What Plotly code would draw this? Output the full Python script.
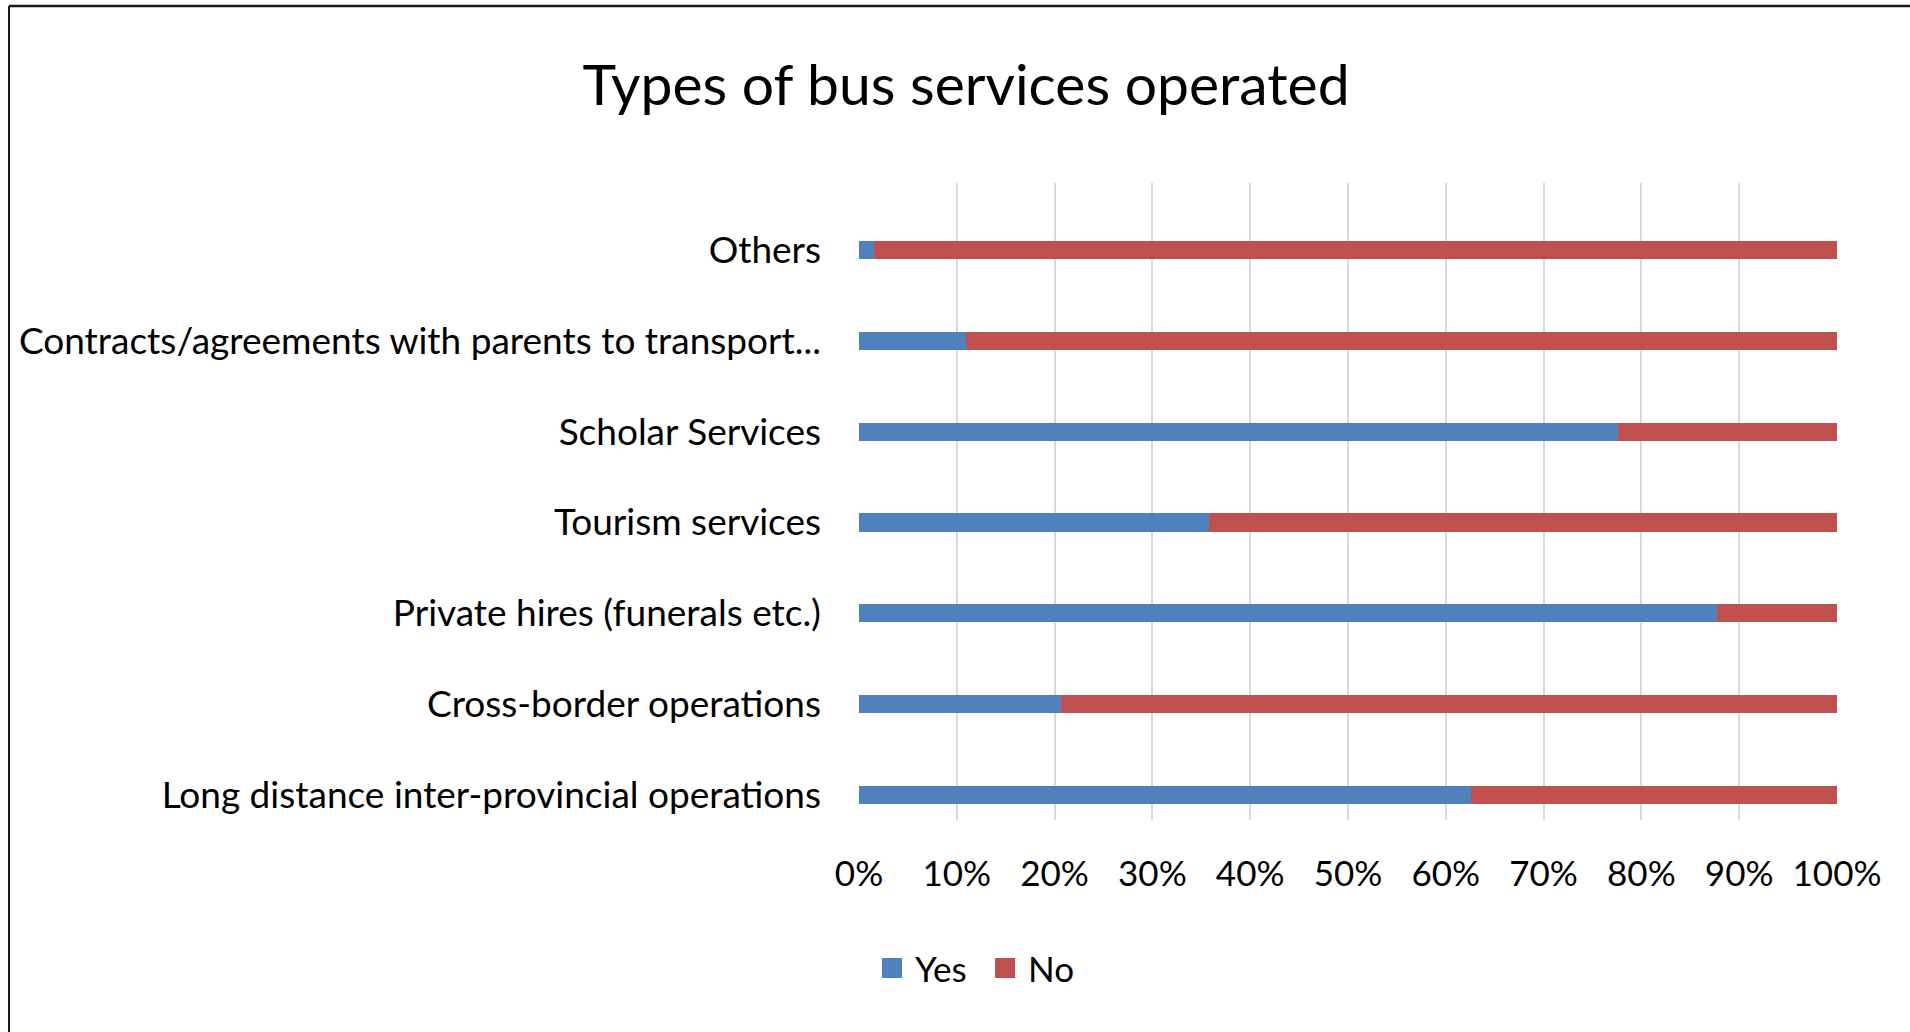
import plotly.graph_objects as go

categories = [
    "Others",
    "Contracts/agreements with parents to transport...",
    "Scholar Services",
    "Tourism services",
    "Private hires (funerals etc.)",
    "Cross-border operations",
    "Long distance inter-provincial operations",
]
yes_values = [1.5, 10.9, 77.6, 35.8, 87.7, 20.7, 62.6]
no_values = [98.5, 89.1, 22.4, 64.2, 12.3, 79.3, 37.4]
x_tick_values = [0, 10, 20, 30, 40, 50, 60, 70, 80, 90, 100]
x_tick_labels = ["0%", "10%", "20%", "30%", "40%", "50%", "60%", "70%", "80%", "90%", "100%"]
series_names = ["Yes", "No"]
series_colors = ["#4f81bd", "#c0504d"]

FONT = "Lato, 'Liberation Sans', Arial, sans-serif"

fig = go.Figure()
fig.add_trace(go.Bar(y=categories, x=yes_values, name=series_names[0], orientation="h",
                     marker=dict(color=series_colors[0], line=dict(width=0))))
fig.add_trace(go.Bar(y=categories, x=no_values, name=series_names[1], orientation="h",
                     marker=dict(color=series_colors[1], line=dict(width=0))))

W, H = 1910, 1032
L, R, T, B = 859, 73, 183, 212
pw, ph = W - L - R, H - T - B

def px_to_paper_x(px):
    return (px - L) / pw

def px_to_paper_y(py):
    return (H - B - py) / ph

fig.update_layout(
    width=W, height=H,
    margin=dict(l=L, r=R, t=T, b=B, pad=0),
    barmode="stack",
    bargap=0.8,
    plot_bgcolor="white",
    paper_bgcolor="white",
    font=dict(family=FONT, color="#000000"),
    title=dict(text="Types of bus services operated", x=966 / W, xanchor="center",
               xref="container", yref="container", y=1 - 85 / H, yanchor="middle",
               font=dict(size=57, family=FONT, color="#000000")),
    xaxis=dict(range=[0, 100], tickvals=x_tick_values, ticktext=x_tick_labels,
               showgrid=True, gridcolor="#d9d9d9", gridwidth=1.5, zeroline=False,
               showline=False, ticks="", tickfont=dict(size=35, family=FONT, color="#000000"),
               ticklabelstandoff=30, fixedrange=True),
    yaxis=dict(range=[6.275, -0.738], showgrid=False, showline=False, ticks="",
               tickfont=dict(size=37, family=FONT, color="#000000"),
               ticklabelstandoff=37, fixedrange=True),
    showlegend=False,
)

# legend drawn with larger square swatches, as in the reference
legend_items = [(882, 913), (995, 1026)]
for (sx, tx), name, color in zip(legend_items, series_names, series_colors):
    fig.add_shape(type="rect", xref="paper", yref="paper",
                  x0=px_to_paper_x(sx), x1=px_to_paper_x(sx + 20),
                  y0=px_to_paper_y(978), y1=px_to_paper_y(958),
                  fillcolor=color, line=dict(width=0))
    fig.add_annotation(text=name, xref="paper", yref="paper",
                       x=px_to_paper_x(tx), y=px_to_paper_y(968),
                       xanchor="left", yanchor="middle", showarrow=False,
                       font=dict(size=35, family=FONT, color="#000000"))

# chart frame (top and left edges visible in the reference)
fig.add_shape(type="line", xref="paper", yref="paper",
              x0=px_to_paper_x(9), x1=px_to_paper_x(W + 5),
              y0=px_to_paper_y(6), y1=px_to_paper_y(6),
              line=dict(color="#1a1a1a", width=2.5))
fig.add_shape(type="line", xref="paper", yref="paper",
              x0=px_to_paper_x(9), x1=px_to_paper_x(9),
              y0=px_to_paper_y(6), y1=px_to_paper_y(H + 5),
              line=dict(color="#1a1a1a", width=2))

fig.write_html("out.html")
